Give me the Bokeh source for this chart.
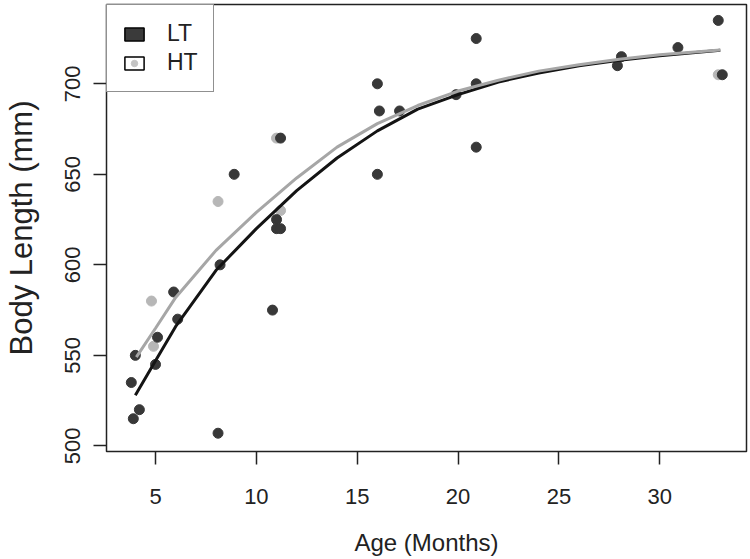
from bokeh.plotting import figure
from bokeh.models import Legend, LegendItem, FixedTicker, Range1d
from bokeh.embed import file_html
from bokeh.resources import INLINE

# ---- data ----
lt_age = [3.8, 3.9, 4.2, 4.0, 5.0, 5.1, 5.9, 6.1, 8.1, 8.2, 8.9, 10.8, 11.0, 11.0,
          11.2, 11.2, 16.0, 16.1, 17.1, 16.0, 19.9, 20.9, 20.9, 20.9, 27.9, 28.1,
          30.9, 32.9, 33.1]
lt_len = [535, 515, 520, 550, 545, 560, 585, 570, 507, 600, 650, 575, 625, 620,
          620, 670, 700, 685, 685, 650, 694, 700, 665, 725, 710, 715,
          720, 735, 705]
ht_age = [4.8, 4.9, 8.1, 11.0, 11.2, 32.9]
ht_len = [580, 555, 635, 670, 630, 705]

lt_fit_age = [4.0, 5, 6, 8, 10, 12, 14, 16, 18, 20, 22, 24, 26, 28, 30, 33]
lt_fit_len = [528, 547, 566, 597, 620, 641, 659, 674, 686, 694, 701, 706, 710, 713, 715.5, 718.5]
ht_fit_age = [4.05, 5, 6, 8, 10, 12, 14, 16, 18, 20, 22, 24, 26, 28, 30, 33]
ht_fit_len = [549, 565, 582, 608, 629, 648, 665, 678, 688, 696, 702, 707, 710.5, 713.5, 716, 718.7]

x_ticks = [5, 10, 15, 20, 25, 30]
y_ticks = [500, 550, 600, 650, 700]
series_labels = ["LT", "HT"]
x_title = "Age (Months)"
y_title = "Body Length (mm)"

DARK_PT = "#383838"
LIGHT_PT = "#b7b7b7"
DARK_LN = "#141414"
LIGHT_LN = "#a6a6a6"
INK = "#222222"
FONT = "Liberation Sans"

p = figure(width=750, height=558,
           x_range=Range1d(2.57, 34.3), y_range=Range1d(496.9, 743.8),
           output_backend="svg", toolbar_location=None,
           min_border_left=105, min_border_right=4, min_border_top=4, min_border_bottom=103,
           x_axis_label=x_title, y_axis_label=y_title)
p.xgrid.visible = False
p.ygrid.visible = False
p.outline_line_color = INK
p.outline_line_width = 1.5
p.background_fill_color = "white"
p.border_fill_color = "white"

for ax in (p.xaxis[0], p.yaxis[0]):
    ax.axis_line_color = None
    ax.major_tick_out = 13
    ax.major_tick_in = 0
    ax.minor_tick_out = 0
    ax.minor_tick_in = 0
    ax.major_tick_line_color = INK
    ax.major_tick_line_width = 1.5
    ax.major_label_text_font = FONT
    ax.major_label_text_font_size = "22px"
    ax.major_label_text_color = INK
    ax.axis_label_text_font = FONT
    ax.axis_label_text_font_style = "normal"
    ax.axis_label_text_color = INK

p.xaxis.ticker = FixedTicker(ticks=x_ticks)
p.yaxis.ticker = FixedTicker(ticks=y_ticks)
p.yaxis.major_label_orientation = "vertical"
p.xaxis.major_label_standoff = 24
p.xaxis.axis_label_standoff = 22
p.xaxis.axis_label_text_font_size = "24px"
p.yaxis.major_label_standoff = 13
p.yaxis.axis_label_standoff = 24
p.yaxis.axis_label_text_font_size = "31px"

# points
p.scatter(ht_age, ht_len, size=10, fill_color=LIGHT_PT, line_color=LIGHT_PT)
p.scatter(lt_age, lt_len, size=10, fill_color=DARK_PT, line_color=DARK_PT)

# fitted curves
p.line(lt_fit_age, lt_fit_len, line_color=DARK_LN, line_width=3)
p.line(ht_fit_age, ht_fit_len, line_color=LIGHT_LN, line_width=3)

# legend glyphs (renderers with no visible data)
nan = float("nan")
leg_lt_box = p.rect(x=[nan], y=[nan], width=1, height=1, fill_color="#3a3a3a",
                    line_color="black", line_width=1.5)
leg_ht_box = p.rect(x=[nan], y=[nan], width=1, height=1, fill_color="white",
                    line_color="black", line_width=1.5)
leg_ht_dot = p.scatter(x=[nan], y=[nan], size=10, fill_color="#c4c4c4", line_color="#c4c4c4")

legend = Legend(items=[LegendItem(label=series_labels[0], renderers=[leg_lt_box], index=0),
                       LegendItem(label=series_labels[1], renderers=[leg_ht_box, leg_ht_dot], index=0)],
                location="top_left", margin=0, padding=15, spacing=2,
                glyph_width=24, glyph_height=16, label_standoff=21, label_width=26,
                label_text_font=FONT, label_text_font_size="23px",
                label_text_color=INK,
                border_line_color=INK, border_line_width=1.5, background_fill_alpha=1.0)
p.add_layout(legend)

open("out.html", "w").write(file_html(p, INLINE))
